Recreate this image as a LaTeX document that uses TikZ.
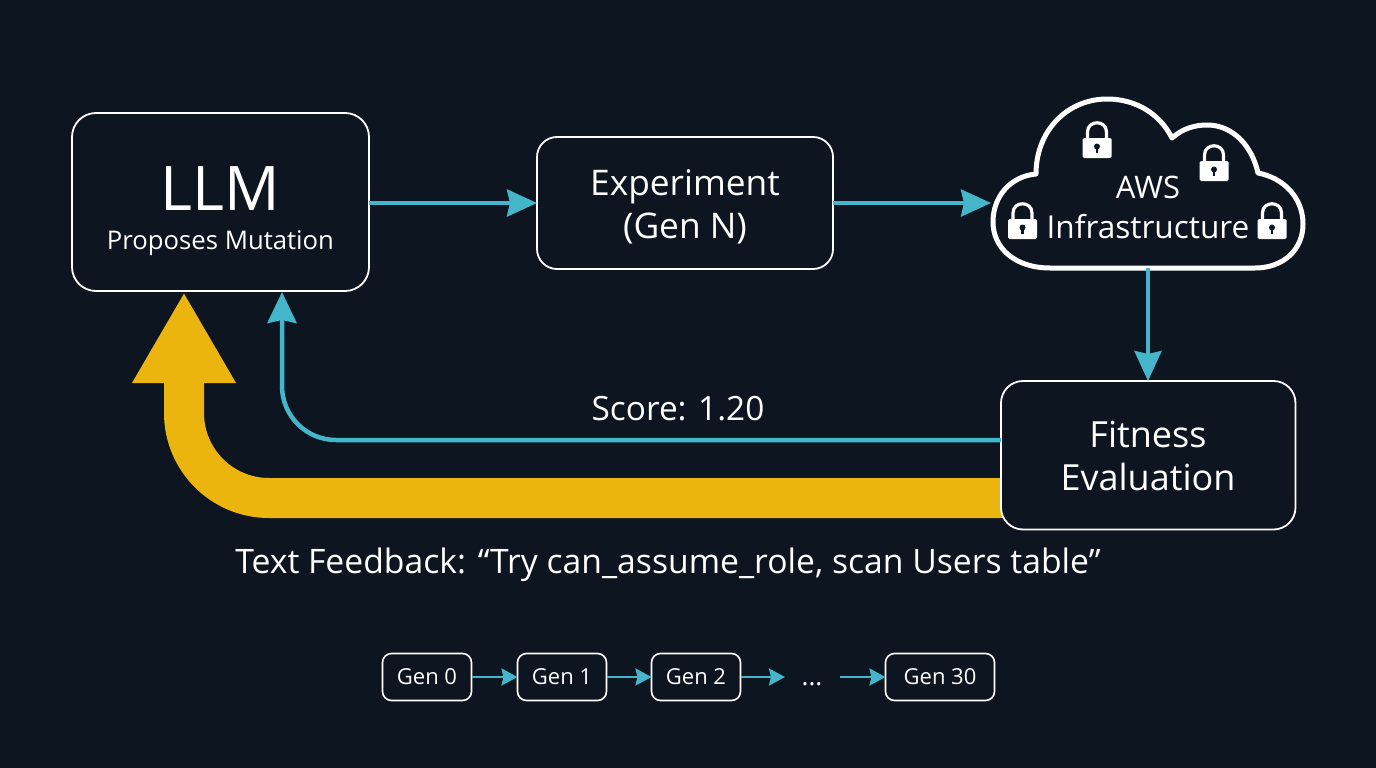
\documentclass[tikz,border=0pt]{standalone}
\usepackage{fontspec}
\setmainfont{Open Sans}
\usetikzlibrary{arrows.meta}
\definecolor{bgc}{HTML}{0D1520}
\definecolor{teal}{HTML}{45B6CA}
\definecolor{gold}{HTML}{ECB40E}
\newcommand{\fs}[1]{\fontsize{#1}{#1}\selectfont}
\tikzset{
  x=1pt,y=-1pt,
  box/.style={draw=white,line width=1.8pt,fill=bgc,align=center,text=white,inner sep=0pt,outer sep=0pt,anchor=north west},
  tealarrow/.style={draw=teal,line width=4pt,-{Stealth[length=30pt,width=27pt,inset=3pt]}},
  genarrow/.style={draw=teal,line width=2.5pt,-{Stealth[length=16pt,width=17pt,inset=2pt]}},
  genbox/.style={box,minimum width=89pt,minimum height=47pt,rounded corners=9pt,line width=1.6pt},
  label/.style={text=white,inner sep=0pt},
  lock/.pic={
    \fill[white,rounded corners=1.5pt] (-14.5,-10) rectangle (14.5,10);
    \draw[white,line width=3.2pt] (-9.5,-9) -- (-9.5,-16) .. controls (-9.5,-28.3) and (9.5,-28.3) .. (9.5,-16) -- (9.5,-9);
    \fill[bgc] (0,-1.5) circle (3pt);
    \fill[bgc] (-1.4,-1) rectangle (1.4,5);
  }
}
\begin{document}
\begin{tikzpicture}
\fill[bgc] (0,0) rectangle (1376,768);
\useasboundingbox (0,0) rectangle (1376,768);

% boxes
\node[box,minimum width=297pt,minimum height=178pt,rounded corners=24pt] (llm) at (72,113) {};
\node[box,minimum width=296pt,minimum height=132pt,rounded corners=20pt] (exp) at (537,137) {};

% cloud
\coordinate (cloudB) at (1148,268);
\draw[white,line width=5pt,fill=bgc,line join=round] (1050,268)
  .. controls (1015,268) and (993,248) .. (993,222)
  .. controls (993,195) and (1012,176) .. (1036,174)
  .. controls (1036,130) and (1068,99) .. (1107,99)
  .. controls (1136,99) and (1160,114) .. (1172,138)
  .. controls (1182,129) and (1194,125) .. (1207,125)
  .. controls (1233,125) and (1252,146) .. (1258,173)
  .. controls (1284,178) and (1303,198) .. (1303,224)
  .. controls (1303,250) and (1283,268) .. (1255,268)
  -- cycle;
\pic at (1097,148) {lock};
\pic at (1214,171) {lock};
\pic at (1022.5,229) {lock};
\pic at (1272,229) {lock};

% fitness box (drawn over the yellow arrow's root)
\coordinate (ytip) at (184,292);
\coordinate (yroot) at (1010,498);
\draw[gold,line width=40pt,rounded corners=85pt,-{Triangle[length=91pt,width=97pt]}]
  (yroot) -- (184,498) -- (ytip);
\node[box,minimum width=294.5pt,minimum height=148.5pt,rounded corners=22pt] (fit) at (1001,381) {};

% teal
\coordinate (stip) at (282,292);
\draw[tealarrow,line width=4.5pt,rounded corners=54pt,-{Stealth[length=31pt,width=29pt,inset=3pt]}] (fit.west |- 0,440) -- (282,440) -- (stip);
\draw[tealarrow] (llm.east |- 0,203) -- (exp.west |- 0,203);
\coordinate (cloudin) at (991,203);
\draw[tealarrow] (exp.east |- 0,203) -- (cloudin);
\draw[tealarrow] (cloudB) -- (fit.north -| cloudB);

% text
\node[label,font=\fs{61.5}] (t1) at (220.5,189) {LLM};
\node[label,font=\fs{25.7}] (t2) at (220.5,243.5) {Proposes Mutation};
\node[label,font=\fs{35.3},align=center] (t3) at (685,206.5) {Experiment\\[7.5pt](Gen N)};
\node[label,font=\fs{31}] (t4) at (1148,187) {AWS};
\node[label,font=\fs{31.6}] (t5) at (1148,227) {Infrastructure};
\node[label,font=\fs{36},align=center] (t6) at (1148,456) {Fitness\\[7pt]Evaluation};
\node[label,font=\fs{33.4}] (t7) at (678,409) {Score: 1.20};
\node[label,font=\fs{33.7}] (t8) at (668,565) {Text Feedback: “Try can\_assume\_role, scan Users table”};

% generation strip
\node[genbox] (g0) at (382.5,653.5) {\fs{22}Gen 0};
\node[genbox] (g1) at (517.5,653.5) {\fs{22}Gen 1};
\node[genbox] (g2) at (651.5,653.5) {\fs{22}Gen 2};
\node[genbox,minimum width=109pt] (g30) at (885.5,653.5) {\fs{22}Gen 30};
\node[label,font=\fs{26},anchor=base] (dots) at (812,685) {...};
\coordinate (d1) at (785,677);
\coordinate (d2) at (840,677);
\draw[genarrow] (g0) -- (g1);
\draw[genarrow] (g1) -- (g2);
\draw[genarrow] (g2.east) -- (d1);
\draw[genarrow] (d2) -- (g30.west);
\end{tikzpicture}
\end{document}
